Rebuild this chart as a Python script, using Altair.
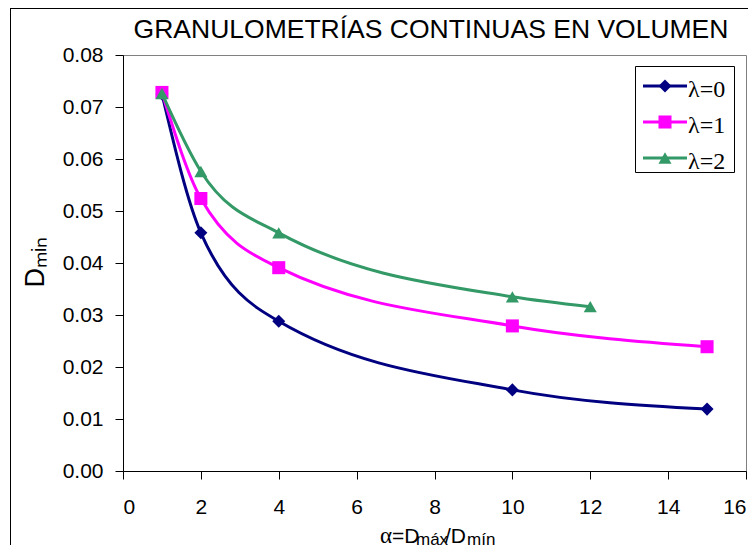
import altair as alt
import pandas as pd

# ---- data ----
series_names = ["λ=0", "λ=1", "λ=2"]
series_colors = ["#000080", "#FF00FF", "#339966"]
series_shapes = ["diamond", "square", "triangle-up"]

alpha_0 = [1, 2, 4, 10, 15]
dmin_0 = [0.0725, 0.0458, 0.0288, 0.0156, 0.0119]

alpha_1 = [1, 2, 4, 10, 15]
dmin_1 = [0.0728, 0.0524, 0.0391, 0.0279, 0.0239]

alpha_2 = [1, 2, 4, 10, 12]
dmin_2 = [0.0726, 0.0576, 0.0458, 0.0335, 0.0316]

x_ticks = [0, 2, 4, 6, 8, 10, 12, 14, 16]
y_ticks = [0.00, 0.01, 0.02, 0.03, 0.04, 0.05, 0.06, 0.07, 0.08]

title_text = "GRANULOMETRÍAS CONTINUAS EN VOLUMEN"
y_title = "Dₘᵢₙ"

rows = []
for name, xs, ys in zip(series_names, [alpha_0, alpha_1, alpha_2], [dmin_0, dmin_1, dmin_2]):
    for i, (a, d) in enumerate(zip(xs, ys)):
        rows.append({"serie": name, "alpha": a, "dmin": d, "i": i})
df = pd.DataFrame(rows)

W, H = 623, 416
SANS = "Liberation Sans"
SERIF = "Liberation Serif"

xenc = alt.X("alpha:Q", scale=alt.Scale(domain=[0, 16], nice=False),
             axis=alt.Axis(values=x_ticks, format="d", title=None, labelPadding=17))
yenc = alt.Y("dmin:Q", scale=alt.Scale(domain=[0, 0.08], nice=False),
             axis=alt.Axis(values=y_ticks, format=".2f", title=y_title, labelPadding=12,
                           titleFont=SANS, titleFontSize=27, titleFontWeight="normal",
                           titleColor="black", titleAngle=270, titleAlign="left",
                           titleBaseline="alphabetic", titleX=-79.5, titleY=232))
cenc = alt.Color("serie:N", scale=alt.Scale(domain=series_names, range=series_colors), legend=None)
senc = alt.Shape("serie:N", scale=alt.Scale(domain=series_names, range=series_shapes), legend=None)

layers = []
for name in series_names:
    sub = alt.Chart(df).transform_filter(alt.datum.serie == name)
    layers.append(sub.mark_line(strokeWidth=3, interpolate="monotone").encode(
        x=xenc, y=yenc, color=cenc, order="i:Q"))
    layers.append(sub.mark_point(filled=True, size=170, opacity=1).encode(
        x=xenc, y=yenc, color=cenc, shape=senc))

one = pd.DataFrame({"k": [0]})

# outer chart frame (left and top edges are visible in the picture)
frame_left = alt.Chart(one).mark_rule(color="black", strokeWidth=1).encode(
    x=alt.value(-112.5), y=alt.value(-47), y2=alt.value(600))
frame_top = alt.Chart(one).mark_rule(color="black", strokeWidth=1).encode(
    x=alt.value(-112.5), x2=alt.value(700), y=alt.value(-46.5))

# title
title = alt.Chart(one).mark_text(text=title_text, font=SANS, fontSize=26.5, align="center",
                                 baseline="alphabetic", color="black").encode(
    x=alt.value(308), y=alt.value(-17))

# x axis title alpha = D_max / D_min
xt_parts = [
    ("α", SERIF, 23, 257, 488),
    ("=D", SANS, 21, 269, 488),
    ("máx", SANS, 17, 293, 490),
    ("/D", SANS, 21, 322, 488),
    ("mín", SANS, 17, 344, 490),
]
xts = [alt.Chart(one).mark_text(text=t, font=f, fontSize=fs, align="left",
                                baseline="alphabetic", color="black").encode(
    x=alt.value(px), y=alt.value(py)) for t, f, fs, px, py in xt_parts]

# legend (manual, boxed)
leg_box = alt.Chart(one).mark_rect(fill="white", stroke="black", strokeWidth=1).encode(
    x=alt.value(512.5), x2=alt.value(611.5), y=alt.value(11.5), y2=alt.value(117.5))
leg = [leg_box]
for k, (name, col, shp) in enumerate(zip(series_names, series_colors, series_shapes)):
    cy = 31 + 36 * k
    leg.append(alt.Chart(one).mark_rule(color=col, strokeWidth=3).encode(
        x=alt.value(520), x2=alt.value(564), y=alt.value(cy)))
    leg.append(alt.Chart(one).mark_point(shape=shp, filled=True, size=170, color=col, opacity=1).encode(
        x=alt.value(542), y=alt.value(cy)))
    leg.append(alt.Chart(one).mark_text(text=name, font=SERIF, fontSize=24, align="left",
                                        baseline="alphabetic", color="black").encode(
        x=alt.value(565), y=alt.value(cy + 11)))

chart = alt.layer(frame_left, frame_top, *layers, title, *xts, *leg).properties(
    width=W, height=H,
    autosize=alt.AutoSizeParams(type="none"),
    padding={"left": 115, "top": 47, "right": 2, "bottom": 74},
).configure_view(stroke="#808080", strokeWidth=1).configure_axis(
    grid=False, domainColor="black", tickColor="black", tickSize=8, domainWidth=1, tickWidth=1,
    labelFont=SANS, labelFontSize=21, labelColor="black",
)

chart.save("out.html", embed_options={"renderer": "svg", "actions": False})
